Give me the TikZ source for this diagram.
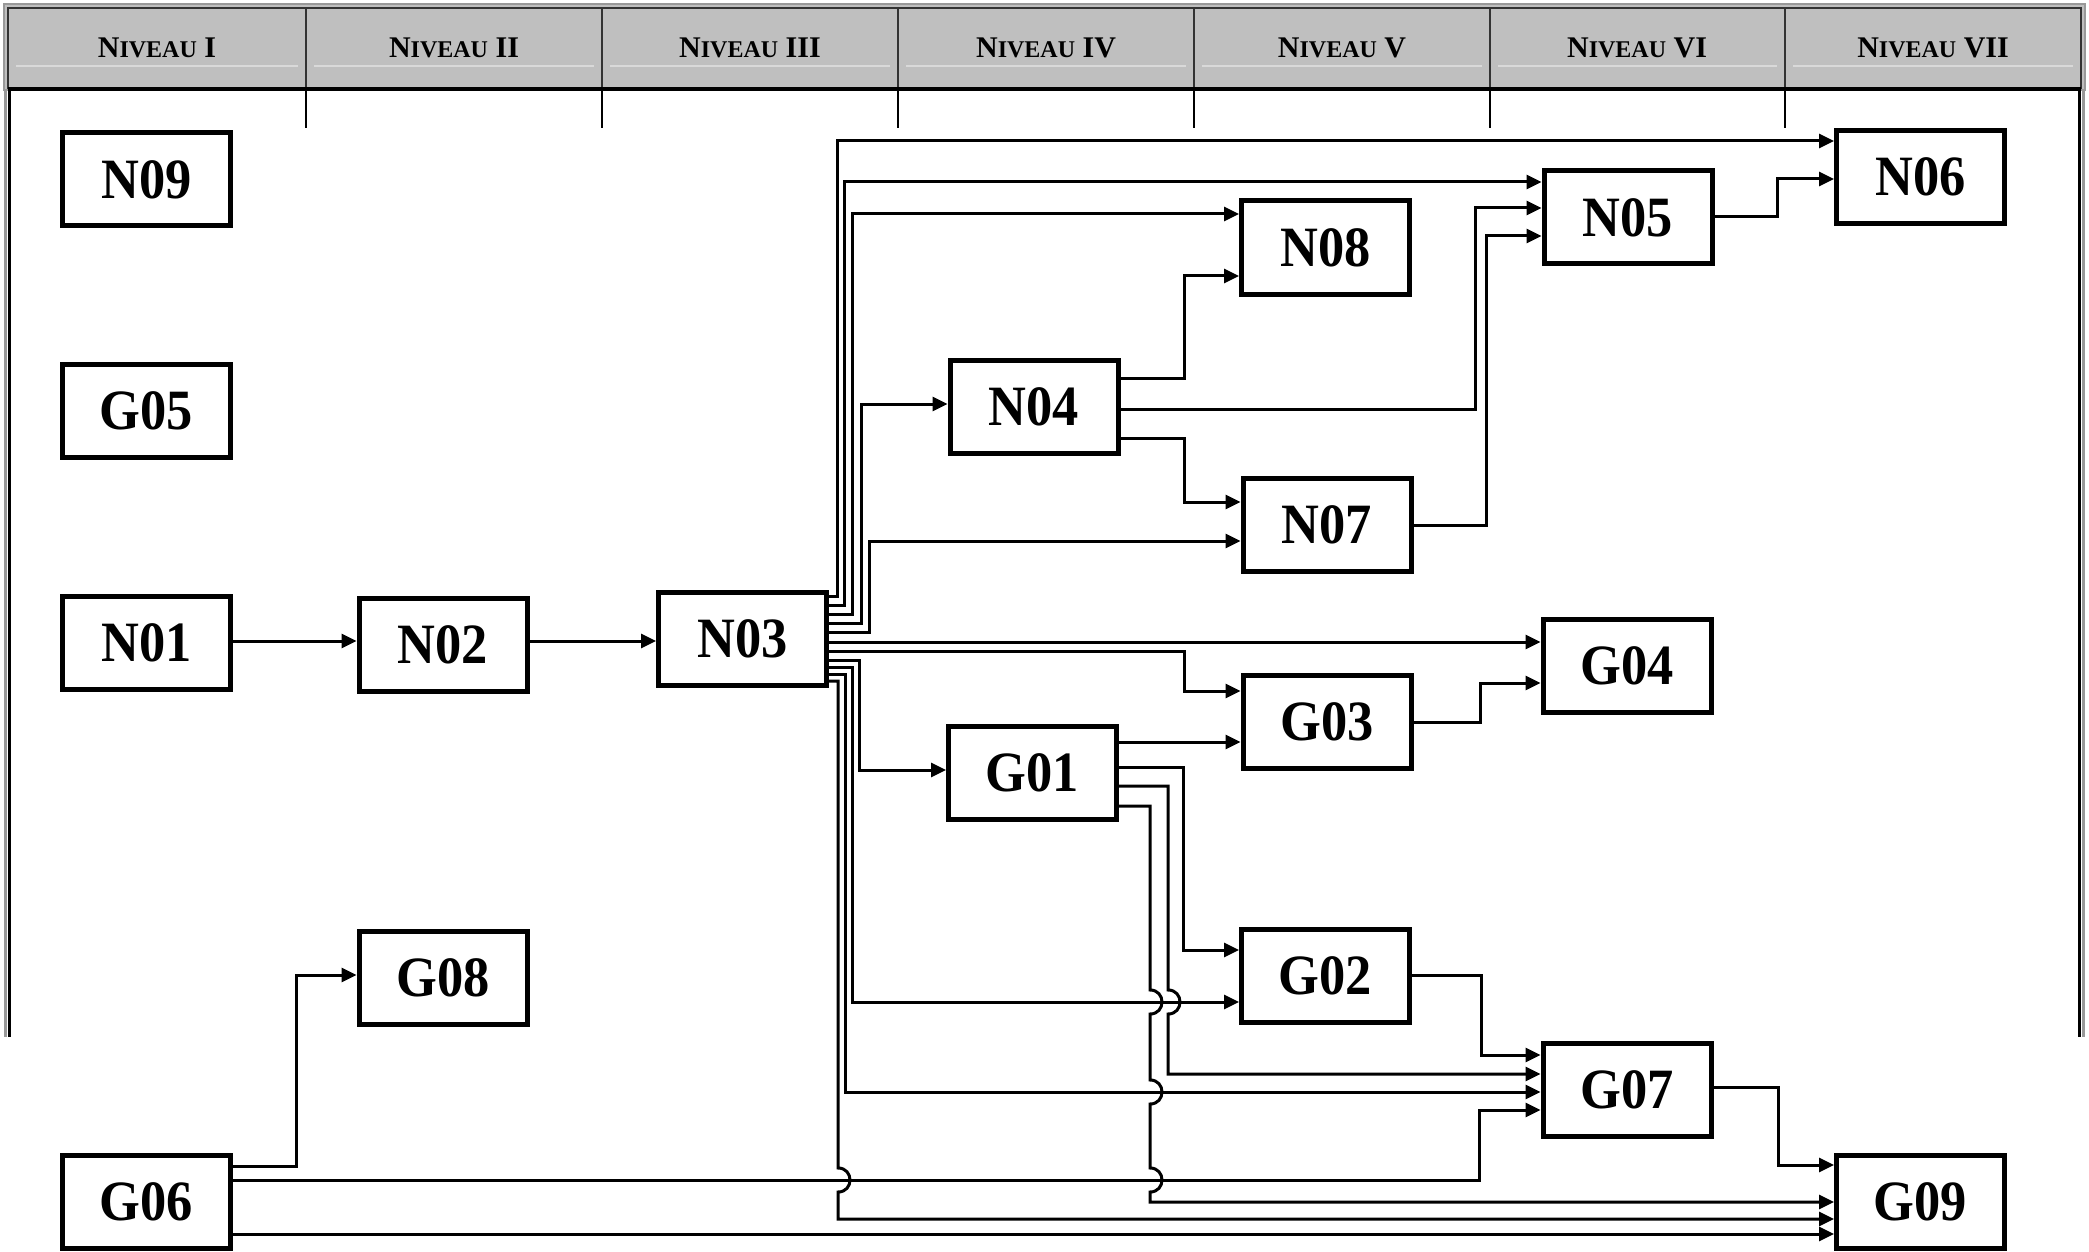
\documentclass[tikz,border=0pt]{standalone}
\usepackage{fontspec}
\setmainfont{Liberation Serif}
\newfontfamily\boxfont{Liberation Serif}[FakeStretch=0.92]
\usetikzlibrary{arrows.meta}
\newcommand\nivlabel[1]{{\fontsize{30}{30}\selectfont N\fontsize{24}{24}\selectfont IVEAU\fontsize{30}{30}\selectfont\ #1}}
\begin{document}
\begin{tikzpicture}[x=1pt,y=-1pt,
  box/.style={draw, line width=5pt, minimum width=168pt, minimum height=93pt, inner sep=0pt,
    font=\boxfont\bfseries\fontsize{57}{57}\selectfont},
  arr/.style={line width=3pt, line join=miter, -{Triangle[length=15pt,width=14pt]}},
  hdr/.style={font=\bfseries, anchor=center, inner sep=0pt},
  cellline/.style={black!80, line width=2.5pt},
  sepline/.style={black, line width=2pt}
]
\useasboundingbox (0,0) rectangle (2089,1252);
% ---------- header ----------
\fill[black!25] (4,4) rectangle (2085,90);
\draw[black!40, line width=2pt] (4,4) rectangle (2085,90);
\foreach \a/\b in {8/306,306/602,602/898,898/1194,1194/1490,1490/1785,1785/2081}{
  \draw[cellline] (\a,8) rectangle (\b,88);
  \draw[white!85!black, line width=1.2pt] (\a+8,66) -- (\b-8,66);
}
\draw[black, line width=4pt] (8,89) -- (2081,89);
\draw[black!40, line width=3pt] (5.5,90) -- (5.5,1037);
\draw[black, line width=3pt] (9.5,88) -- (9.5,1037);
\draw[black!40, line width=3pt] (2083.5,90) -- (2083.5,1037);
\draw[black, line width=3pt] (2079.5,88) -- (2079.5,1037);
\foreach \x in {306,602,898,1194,1490,1785}{
  \draw[sepline] (\x,88) -- (\x,128);
}
\node[hdr] (h1) at (157,48) {\nivlabel{I}};
\node[hdr] (h2) at (454,48) {\nivlabel{II}};
\node[hdr] (h3) at (750,48) {\nivlabel{III}};
\node[hdr] (h4) at (1046,48) {\nivlabel{IV}};
\node[hdr] (h5) at (1342,48) {\nivlabel{V}};
\node[hdr] (h6) at (1637,48) {\nivlabel{VI}};
\node[hdr] (h7) at (1933,48) {\nivlabel{VII}};
% ---------- boxes ----------
\node[box] (N09) at (146.5,179.5) {N09};
\node[box] (G05) at (146.5,411) {G05};
\node[box] (N01) at (146.5,642.5) {N01};
\node[box] (G06) at (146.5,1202) {G06};
\node[box] (N02) at (443,644.5) {N02};
\node[box] (G08) at (443,977.5) {G08};
\node[box] (N03) at (742.5,639) {N03};
\node[box] (N04) at (1034,407) {N04};
\node[box] (G01) at (1032.5,773) {G01};
\node[box] (N08) at (1325.5,247.5) {N08};
\node[box] (N07) at (1327,524.5) {N07};
\node[box] (G03) at (1327,721.5) {G03};
\node[box] (G02) at (1325.5,976) {G02};
\node[box] (N05) at (1628,217.5) {N05};
\node[box] (G04) at (1627,665.5) {G04};
\node[box] (G07) at (1627,1089.5) {G07};
\node[box] (N06) at (1920.5,177) {N06};
\node[box] (G09) at (1920.5,1201.5) {G09};
% ---------- connectors ----------
\draw[arr] (N01.east |- 0,641) -- (N02.west |- 0,641);
\draw[arr] (N02.east |- 0,641) -- (N03.west |- 0,641);
\draw[arr] (G06.east |- 0,1166) -| (296,975) -- (G08.west |- 0,975);
\draw[arr] (G06.east |- 0,1180) -| (1479,1110) -- (G07.west |- 0,1110);
\draw[arr] (G06.east |- 0,1234) -- (G09.west |- 0,1234);
% N03 upper group
\draw[arr] (N03.east |- 0,596) -| (837,141) -- (N06.west |- 0,141);
\draw[arr] (N03.east |- 0,605) -| (844,182) -- (N05.west |- 0,182);
\draw[arr] (N03.east |- 0,614) -| (852,214) -- (N08.west |- 0,214);
\draw[arr] (N03.east |- 0,623) -| (861,404) -- (N04.west |- 0,404);
\draw[arr] (N03.east |- 0,632) -| (869,541) -- (N07.west |- 0,541);
\draw[arr] (N03.east |- 0,642) -- (G04.west |- 0,642);
\draw[arr] (N03.east |- 0,651) -| (1184,691) -- (G03.west |- 0,691);
% N03 lower group
\draw[arr] (N03.east |- 0,660) -| (859,770) -- (G01.west |- 0,770);
\draw[arr] (N03.east |- 0,667) -| (852,1002) -- (G02.west |- 0,1002);
\draw[arr] (N03.east |- 0,674) -| (845,1092) -- (G07.west |- 0,1092);
\draw[arr] (N03.east |- 0,681) -| (838,1168) .. controls (854,1168) and (854,1192) .. (838,1192) -- (838,1219) -- (G09.west |- 0,1219);
% G01 outputs
\draw[arr] (G01.east |- 0,742) -- (G03.west |- 0,742);
\draw[arr] (G01.east |- 0,767) -| (1183,950) -- (G02.west |- 0,950);
\draw[arr] (G01.east |- 0,786) -| (1168,990) .. controls (1184,990) and (1184,1014) .. (1168,1014) -- (1168,1074) -- (G07.west |- 0,1074);
\draw[arr] (G01.east |- 0,806) -| (1150,990) .. controls (1166,990) and (1166,1014) .. (1150,1014)
  -- (1150,1080) .. controls (1166,1080) and (1166,1104) .. (1150,1104)
  -- (1150,1168) .. controls (1166,1168) and (1166,1192) .. (1150,1192)
  -- (1150,1202) -- (G09.west |- 0,1202);
% N04 outputs and others
\draw[arr] (N04.east |- 0,378) -| (1184,276) -- (N08.west |- 0,276);
\draw[arr] (N04.east |- 0,409) -| (1475,208) -- (N05.west |- 0,208);
\draw[arr] (N04.east |- 0,438) -| (1184,502) -- (N07.west |- 0,502);
\draw[arr] (N07.east |- 0,525) -| (1486,236) -- (N05.west |- 0,236);
\draw[arr] (N05.east |- 0,217) -| (1777,179) -- (N06.west |- 0,179);
\draw[arr] (G03.east |- 0,722) -| (1480,683) -- (G04.west |- 0,683);
\draw[arr] (G02.east |- 0,975) -| (1481,1055) -- (G07.west |- 0,1055);
\draw[arr] (G07.east |- 0,1087) -| (1778,1165) -- (G09.west |- 0,1165);
\end{tikzpicture}
\end{document}
